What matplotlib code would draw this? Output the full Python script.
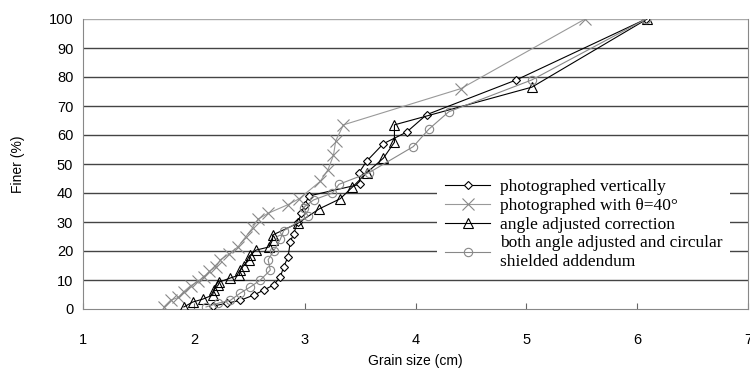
import matplotlib
matplotlib.use('Agg')
import matplotlib.pyplot as plt

# Grain size distribution curves
vert_x = [2.17, 2.30, 2.42, 2.54, 2.63, 2.72, 2.78, 2.81, 2.85, 2.87, 2.90, 2.94,
          2.97, 3.00, 3.04, 3.50, 3.49, 3.56, 3.71, 3.92, 4.10, 4.91, 6.08]
vert_y = [1, 2, 3, 4.8, 6.5, 8.3, 11, 14.5, 18, 23, 26, 30,
          33, 36, 39, 43, 47, 51, 57, 61, 67, 79, 100]

tilt_x = [1.73, 1.79, 1.86, 1.91, 1.97, 2.04, 2.09, 2.14, 2.20, 2.24, 2.32, 2.40,
          2.47, 2.53, 2.58, 2.67, 2.85, 2.95, 3.14, 3.21, 3.26, 3.28, 3.35, 4.41, 5.53]
tilt_y = [0.7, 3, 4, 6, 8, 9.5, 11, 13, 14.5, 17, 19, 21.5,
          25, 28, 31, 33, 36, 38, 44, 48, 53, 58, 63.5, 76, 100]

adj_x = [1.91, 1.99, 2.08, 2.17, 2.18, 2.22, 2.23, 2.33, 2.41, 2.42, 2.45, 2.50,
         2.51, 2.56, 2.68, 2.71, 2.71, 2.94, 3.13, 3.32, 3.43, 3.56, 3.71, 3.81,
         3.81, 5.05, 6.09]
adj_y = [0.7, 2.4, 3.4, 4.8, 6.5, 8.3, 9.3, 10.7, 11.7, 13.4, 15, 17,
         18.6, 20.3, 21.4, 23.8, 25.5, 29.6, 34.5, 38, 42, 47, 52, 57.5,
         63.5, 76.5, 100]

both_x = [2.11, 2.22, 2.33, 2.42, 2.51, 2.60, 2.69, 2.67, 2.72, 2.78, 2.81, 3.03,
          2.99, 3.08, 3.25, 3.31, 3.58, 3.98, 4.12, 4.30, 5.05, 6.08]
both_y = [0.7, 2, 3, 5.5, 7.6, 10, 13.4, 17, 20, 24, 27, 32,
          35, 37.6, 40, 43, 47, 56, 62, 68, 79, 100]

labels = ['photographed vertically',
          'photographed with \u03b8=40\u00b0',
          'angle adjusted correction',
          'both angle adjusted and circular\nshielded addendum']

fig = plt.figure(figsize=(7.5, 3.74), dpi=100)
ax = fig.add_axes([83 / 750, 65 / 374, 665 / 750, 290 / 374])

# horizontal grid
for g in range(10, 101, 10):
    ax.axhline(g, color='#aaaaaa' if g == 100 else '#444444', lw=1.0, zorder=1)

ax.plot(vert_x, vert_y, color='black', lw=0.8, marker='D', ms=4.5,
        mfc='white', mec='black', mew=0.8, label=labels[0], zorder=3)
ax.plot(tilt_x, tilt_y, color='#999999', lw=0.8, marker='x', ms=8,
        mec='#888888', mew=0.8, label=labels[1], zorder=3)
ax.plot(adj_x, adj_y, color='black', lw=0.8, marker='^', ms=7,
        mfc='none', mec='black', mew=0.8, label=labels[2], zorder=3)
ax.plot(both_x, both_y, color='#888888', lw=0.8, marker='o', ms=6,
        mfc='none', mec='#888888', mew=0.8, label=labels[3], zorder=3)

ax.set_xlim(1, 7)
ax.set_ylim(0, 100)
ax.set_xticks(range(1, 8))
ax.set_yticks(range(0, 101, 10))

for s in ['left', 'bottom', 'right']:
    ax.spines[s].set_color('#888888')
ax.spines['top'].set_visible(False)

ax.tick_params(axis='x', direction='in', length=4, color='#666666', pad=17,
               labelsize=10.5)
ax.tick_params(axis='y', length=0, pad=7, labelsize=10.5)
for t in ax.get_xticklabels() + ax.get_yticklabels():
    t.set_family('Liberation Sans')

ax.set_xlabel('Grain size (cm)', family='Liberation Sans', fontsize=10, labelpad=5)
ax.set_ylabel('Finer (%)', family='Liberation Sans', fontsize=10, labelpad=17)

leg = ax.legend(loc='upper left', bbox_to_anchor=(0.52, 0.505), frameon=True,
                fancybox=False, edgecolor='none', facecolor='white', framealpha=1,
                prop={'family': 'Liberation Serif', 'size': 12.5},
                handlelength=2.6, handletextpad=0.55, labelspacing=0.15,
                borderpad=0.45)
leg.set_zorder(5)

plt.savefig('out.png', dpi=100)
